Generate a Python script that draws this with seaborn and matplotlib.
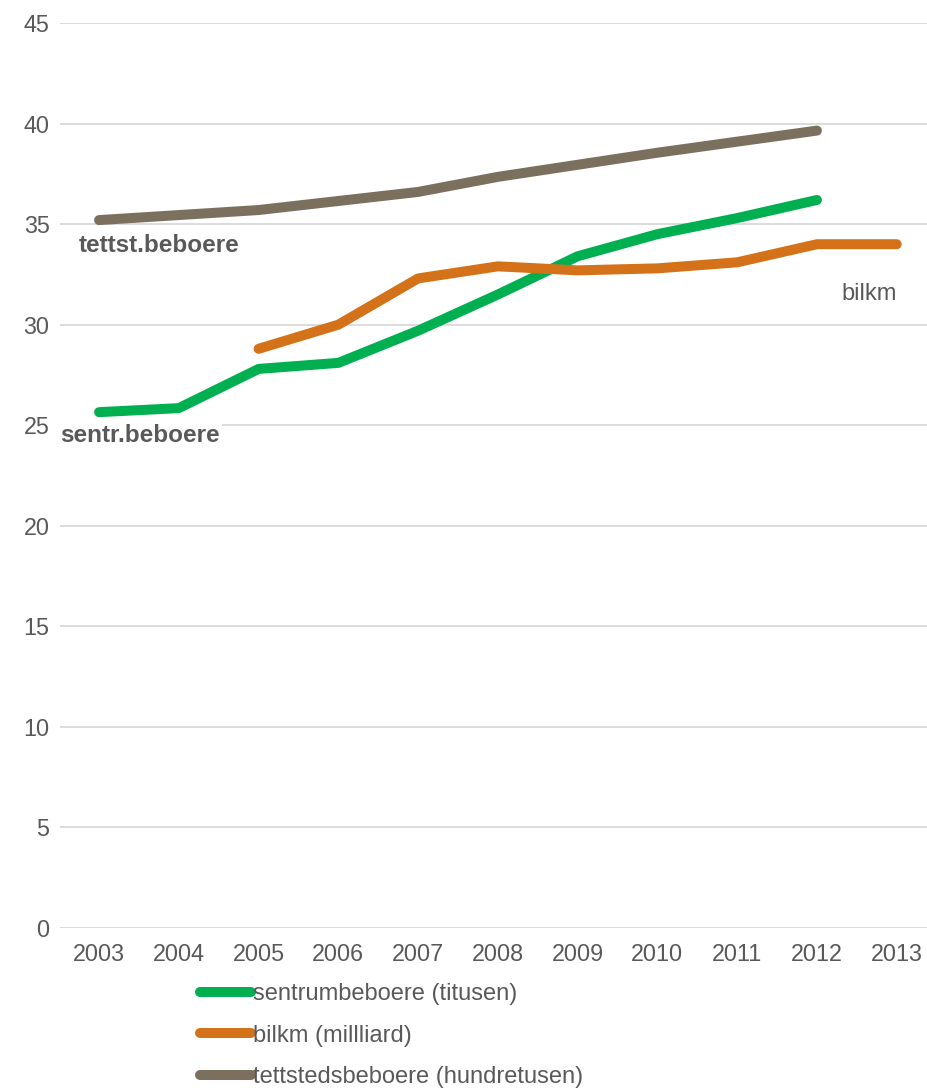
import matplotlib
matplotlib.use("Agg")
import matplotlib.pyplot as plt
import seaborn as sns
import pandas as pd
from matplotlib.lines import Line2D

years = ["2003", "2004", "2005", "2006", "2007", "2008", "2009", "2010", "2011", "2012", "2013"]
sentrum = [25.65, 25.85, 27.8, 28.1, 29.7, 31.5, 33.4, 34.5, 35.3, 36.2, None]
bilkm = [None, None, 28.8, 30.0, 32.3, 32.9, 32.7, 32.8, 33.1, 34.0, 34.0]
tettsted = [35.2, 35.45, 35.7, 36.15, 36.6, 37.35, 37.95, 38.55, 39.1, 39.65, None]
series_names = ["sentrumbeboere (titusen)", "bilkm (millliard)", "tettstedsbeboere (hundretusen)"]
colors = ["#00B050", "#D4721A", "#7B6F5E"]
yticks = [0, 5, 10, 15, 20, 25, 30, 35, 40, 45]

sns.set_theme(style="white")
plt.rcParams["font.family"] = ["Liberation Sans", "DejaVu Sans"]

rows = []
for name, vals in zip(series_names, [sentrum, bilkm, tettsted]):
    for i, v in enumerate(vals):
        if v is not None:
            rows.append({"idx": i, "year": years[i], "value": v, "series": name})
df = pd.DataFrame(rows)

fig = plt.figure(figsize=(9.27, 10.9), dpi=100)
ax = fig.add_axes([60 / 927, (1090 - 928) / 1090, (927 - 60) / 927, (928 - 23) / 1090])

sns.lineplot(data=df, x="idx", y="value", hue="series", hue_order=series_names,
             palette=colors, linewidth=7.2, ax=ax, legend=False)
for ln in ax.get_lines():
    ln.set_solid_capstyle("round")
    ln.set_solid_joinstyle("round")

ax.set_xlim(-0.49, 10.38)
ax.set_ylim(0, 45)
ax.set_yticks(yticks)
ax.set_yticklabels([str(t) for t in yticks])
ax.set_xticks(range(len(years)))
ax.set_xticklabels(years)
ax.grid(axis="y", color="#D9D9D9", linewidth=1.3)
ax.set_axisbelow(True)
for s in ax.spines.values():
    s.set_visible(False)
ax.tick_params(axis="both", length=0, labelsize=16.8, labelcolor="#595959")
ax.tick_params(axis="y", pad=7.5)
ax.tick_params(axis="x", pad=11)
ax.set_xlabel("")
ax.set_ylabel("")

ax.text(-0.26, 33.95, "tettst.beboere", fontsize=17.5, fontweight="bold", color="#595959",
        ha="left", va="center")
ax.text(-0.49, 24.5, "sentr.beboere", fontsize=17.5, fontweight="bold", color="#595959",
        ha="left", va="center",
        bbox=dict(facecolor="white", edgecolor="none", pad=1.5))
ax.text(10.0, 31.5, "bilkm", fontsize=17, color="#595959", ha="right", va="center")

handles = [Line2D([0], [0], color=c, linewidth=7.2, solid_capstyle="round") for c in colors]
leg = fig.legend(handles, series_names, loc="upper left",
                 bbox_to_anchor=(200 / 927, 1 - 983 / 1090),
                 frameon=False, fontsize=17.0, handlelength=2.15, handletextpad=0.1,
                 labelspacing=0.83, borderaxespad=0, borderpad=0)
for t in leg.get_texts():
    t.set_color("#595959")

fig.savefig("out.png", dpi=100)
